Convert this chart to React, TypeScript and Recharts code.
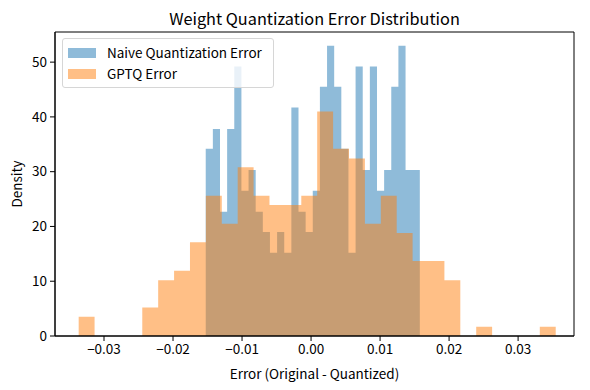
import React from 'react';
import { ComposedChart, Area, XAxis, YAxis, Legend, ReferenceArea, Label } from 'recharts';

// densities per bin (30 bins each)
const naiveDensity = [
  34.2, 37.8, 22.7, 37.8, 49.2, 26.5, 30.3, 22.7, 19.0, 15.2,
  19.0, 15.2, 41.7, 22.7, 19.0, 26.5, 45.5, 53.0, 45.5, 34.2,
  15.2, 49.2, 30.3, 49.2, 26.5, 30.3, 45.5, 53.0, 30.3, 30.3,
];
const gptqDensity = [
  3.5, 0, 0, 0, 5.2, 10.2, 11.9, 17.1, 25.6, 20.5,
  30.8, 25.6, 23.9, 23.9, 25.6, 41.0, 34.2, 32.4, 20.5, 25.6,
  18.8, 13.7, 13.7, 10.2, 0, 1.7, 0, 0, 0, 1.7,
];
const naiveRange = [-0.01526, 0.01576];
const gptqRange = [-0.03367, 0.03545];

const xTicks = [-0.03, -0.02, -0.01, 0, 0.01, 0.02, 0.03];
const yTicks = [0, 10, 20, 30, 40, 50];
const xDomain = [-0.0371, 0.0381];
const yDomain = [0, 55.5];

const FONT = '"Noto Sans CJK JP", "Noto Sans", sans-serif';
const BLUE = '#1f77b4';
const ORANGE = '#ff7f0e';

const series = [
  { name: 'Naive Quantization Error', color: BLUE },
  { name: 'GPTQ Error', color: ORANGE },
];

// bin edges -> step points (last edge closes the shape)
const toSteps = (values: number[], range: number[]) => {
  const w = (range[1] - range[0]) / values.length;
  const pts = values.map((v, i) => ({ x: range[0] + i * w, y: v }));
  pts.push({ x: range[1], y: 0 });
  return pts;
};

const naiveData = toSteps(naiveDensity, naiveRange);
const gptqData = toSteps(gptqDensity, gptqRange);

const fmtX = (v: number) => {
  const s = Math.abs(v) < 1e-9 ? '0.00' : v.toFixed(2);
  return s.replace('-', '\u2212');
};

const LegendBox = () => (
  <div
    style={{
      border: '1px solid #d6d6d6',
      borderRadius: 3,
      background: 'rgba(255,255,255,0.8)',
      padding: '3px 11px 3px 5px',
      fontFamily: FONT,
      fontSize: 13.5,
      lineHeight: '21px',
      color: '#000',
    }}
  >
    {series.map((s) => (
      <div key={s.name} style={{ display: 'flex', alignItems: 'center' }}>
        <span
          style={{
            display: 'inline-block',
            width: 28,
            height: 10,
            background: s.color,
            opacity: 0.5,
            marginRight: 11,
          }}
        />
        {s.name}
      </div>
    ))}
  </div>
);

export default function App() {
  return (
    <div style={{ position: 'absolute', left: 0, top: 0, width: 590, height: 390, background: '#fff' }}>
      <div
        style={{
          position: 'absolute',
          top: 6,
          left: 55,
          width: 519,
          textAlign: 'center',
          fontFamily: FONT,
          fontSize: 16.3,
          lineHeight: '24px',
          color: '#000',
        }}
      >
        Weight Quantization Error Distribution
      </div>
      <ComposedChart width={590} height={390} margin={{ top: 32, right: 16, left: 0, bottom: 0 }}>
        <XAxis
          type="number"
          dataKey="x"
          domain={xDomain}
          ticks={xTicks}
          allowDataOverflow
          tickFormatter={fmtX}
          height={54}
          tickSize={5}
          tickMargin={3}
          stroke="#000"
          tick={{ fontSize: 13.5, fill: '#000', fontFamily: FONT }}
        >
          <Label
            value="Error (Original - Quantized)"
            position="insideBottom"
            offset={11}
            style={{ fontSize: 13.5, fill: '#000', fontFamily: FONT }}
          />
        </XAxis>
        <YAxis
          type="number"
          domain={yDomain}
          ticks={yTicks}
          allowDataOverflow
          width={55}
          tickSize={5}
          tickMargin={3}
          stroke="#000"
          tick={{ fontSize: 13.5, fill: '#000', fontFamily: FONT }}
        >
          <Label
            value="Density"
            angle={-90}
            position="insideLeft"
            offset={17}
            style={{ fontSize: 13.5, fill: '#000', fontFamily: FONT, textAnchor: 'middle' }}
          />
        </YAxis>
        <Area
          data={naiveData}
          dataKey="y"
          type="stepAfter"
          stroke="none"
          fill={BLUE}
          fillOpacity={0.5}
          isAnimationActive={false}
          name={series[0].name}
        />
        <Area
          data={gptqData}
          dataKey="y"
          type="stepAfter"
          stroke="none"
          fill={ORANGE}
          fillOpacity={0.5}
          isAnimationActive={false}
          name={series[1].name}
        />
        <ReferenceArea
          x1={xDomain[0]}
          x2={xDomain[1]}
          y1={yDomain[0]}
          y2={yDomain[1]}
          fill="none"
          stroke="#000"
          strokeWidth={1}
        />
        <Legend
          layout="vertical"
          align="center"
          verticalAlign="middle"
          content={<LegendBox />}
          wrapperStyle={{ left: 62, top: 38, width: 'auto' }}
        />
      </ComposedChart>
    </div>
  );
}
